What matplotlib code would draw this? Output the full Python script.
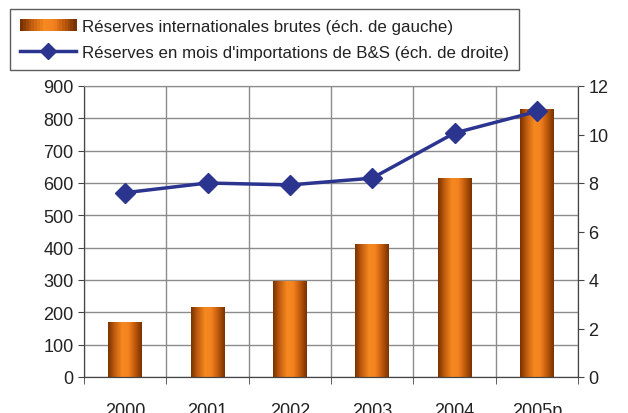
import matplotlib.pyplot as plt
import numpy as np
from matplotlib.colors import LinearSegmentedColormap
from matplotlib.patches import Rectangle
from matplotlib.legend_handler import HandlerBase

plt.rcParams['font.family'] = ['Liberation Sans', 'DejaVu Sans']

years = ['2000', '2001', '2002', '2003', '2004', '2005p']
reserves = [169, 215, 295, 411, 615, 826]
months = [7.6, 8.0, 7.92, 8.2, 10.06, 10.95]

bar_cmap = LinearSegmentedColormap.from_list(
    'bar', [(0.0, '#7a3300'), (0.2, '#c45f10'), (0.42, '#f6891f'),
            (0.6, '#f38220'), (0.8, '#c05a0c'), (1.0, '#7a3300')])
grad = np.linspace(0, 1, 64).reshape(1, -1)


class GradientHandler(HandlerBase):
    def create_artists(self, legend, orig, xd, yd, w, h, fontsize, trans):
        parts = []
        n = 20
        for k in range(n):
            r = Rectangle((xd + w * k / n, yd), w / n + 0.3, h,
                          facecolor=bar_cmap(k / (n - 1)), edgecolor='none', transform=trans)
            parts.append(r)
        return parts


fig = plt.figure(figsize=(6.28, 4.14), dpi=100)
ax = fig.add_axes([84 / 628, 1 - 378 / 414, (578 - 84) / 628, (378 - 87) / 414])
ax2 = ax.twinx()

x = np.arange(len(years))
width = 0.41
for xi, v in zip(x, reserves):
    ax.imshow(grad, cmap=bar_cmap, aspect='auto', interpolation='bilinear',
              extent=[xi - width / 2, xi + width / 2, 0, v], zorder=2)

ax.set_xlim(-0.5, len(years) - 0.5)
ax.set_ylim(0, 900)
ax.set_yticks(range(0, 901, 100))
ax.set_xticks(x)
ax.set_xticklabels(years)
ax.set_xticks(np.arange(-0.5, len(years), 1), minor=True)
ax.tick_params(axis='x', which='major', length=0, pad=18, labelsize=13, colors='#222222')
ax.tick_params(axis='x', which='minor', length=5, color='#444444')
ax.tick_params(axis='y', length=4, labelsize=13, colors='#222222', color='#444444')
ax.grid(True, axis='y', color='#8c8c8c', linewidth=1, zorder=0)
ax.grid(True, axis='x', which='minor', color='#8c8c8c', linewidth=1, zorder=0)
ax.set_axisbelow(True)

ax2.plot(x, months, color='#2b3590', linewidth=2.5, marker='D', markersize=10,
         markerfacecolor='#2b3590', markeredgecolor='#2b3590')
ax2.set_ylim(0, 12)
ax2.set_yticks(range(0, 13, 2))
ax2.tick_params(axis='y', length=4, labelsize=13, colors='#222222', color='#444444')

for a in (ax, ax2):
    for s in ('left', 'right', 'bottom'):
        a.spines[s].set_color('#444444')
    a.spines['top'].set_color('#8c8c8c')

bar_proxy = Rectangle((0, 0), 1, 1)
line_proxy, = ax2.plot([], [], color='#2b3590', linewidth=2.5, marker='D', markersize=8)
leg = fig.legend([bar_proxy, line_proxy],
                 ['Réserves internationales brutes (éch. de gauche)',
                  "Réserves en mois d'importations de B&S (éch. de droite)"],
                 handler_map={Rectangle: GradientHandler()},
                 loc='upper left', bbox_to_anchor=(10 / 628, 1 - 10 / 414),
                 borderaxespad=0, fontsize=12.2, frameon=True, fancybox=False,
                 edgecolor='#333333', handlelength=3.3, handletextpad=0.35,
                 labelspacing=0.65, borderpad=0.6)
leg.get_frame().set_linewidth(1)
for t in leg.get_texts():
    t.set_color('#222222')

fig.savefig('out.png', dpi=100)
